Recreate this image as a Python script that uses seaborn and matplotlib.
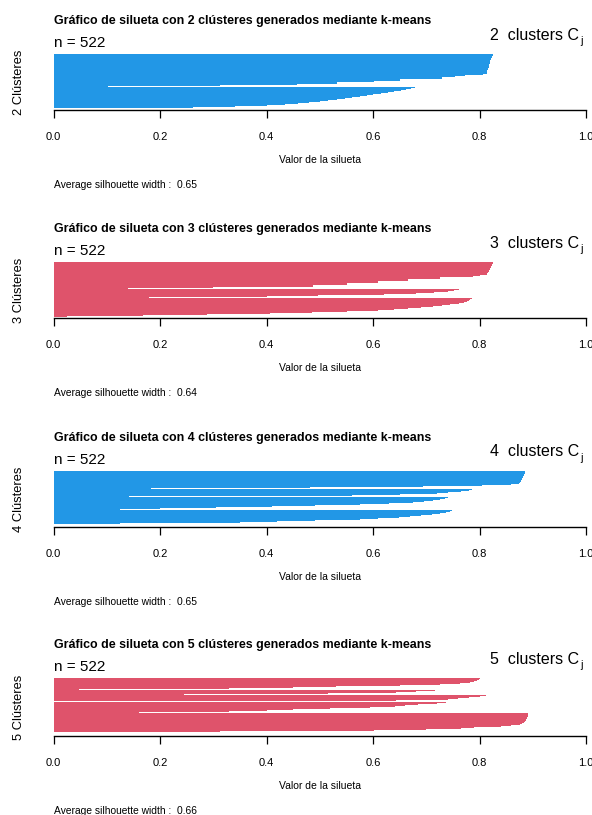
import numpy as np
import pandas as pd
import matplotlib.pyplot as plt
import seaborn as sns

# silhouette width per pixel row (top to bottom) of every cluster;
# the last value of each cluster (except the last) sits in the gap row
k2_c1 = [0.826, 0.825, 0.824, 0.823, 0.822, 0.821, 0.820, 0.820, 0.819, 0.819,
         0.818, 0.818, 0.817, 0.817, 0.816, 0.816, 0.815, 0.815, 0.814, 0.814,
         0.807, 0.773, 0.754, 0.729, 0.729, 0.651, 0.651, 0.601, 0.532, 0.532,
         0.457, 0.313, 0.103]
k2_c2 = [0.679, 0.672, 0.662, 0.652, 0.640, 0.628, 0.615, 0.600, 0.588, 0.575,
         0.560, 0.548, 0.532, 0.515, 0.500, 0.480, 0.460, 0.435, 0.400, 0.340,
         0.262]

k3_c1 = [0.826, 0.825, 0.824, 0.823, 0.822, 0.821, 0.820, 0.819, 0.818, 0.817,
         0.816, 0.815, 0.814, 0.800, 0.788, 0.726, 0.726, 0.666, 0.666, 0.610,
         0.610, 0.551, 0.551, 0.488, 0.488, 0.300, 0.139]
k3_c2 = [0.762, 0.752, 0.740, 0.714, 0.680, 0.620, 0.497, 0.400, 0.180]
k3_c3 = [0.785, 0.783, 0.780, 0.776, 0.771, 0.762, 0.745, 0.730, 0.713, 0.690,
         0.666, 0.640, 0.610, 0.551, 0.485, 0.407, 0.288, 0.168, 0.025]

k4_c1 = [0.886, 0.886, 0.885, 0.884, 0.883, 0.882, 0.881, 0.880, 0.879, 0.878,
         0.877, 0.876, 0.874, 0.860, 0.804, 0.694, 0.482, 0.183]
k4_c2 = [0.785, 0.780, 0.765, 0.741, 0.720, 0.650, 0.560, 0.141]
k4_c3 = [0.741, 0.736, 0.726, 0.712, 0.696, 0.676, 0.630, 0.576, 0.492, 0.411,
         0.305, 0.200, 0.125]
k4_c4 = [0.749, 0.745, 0.738, 0.726, 0.710, 0.690, 0.670, 0.648, 0.610, 0.576,
         0.492, 0.420, 0.351, 0.125]

k5_c1 = [0.800, 0.799, 0.796, 0.790, 0.783, 0.764, 0.726, 0.651, 0.531, 0.450,
         0.330, 0.048]
k5_c2 = [0.716, 0.680, 0.643, 0.516, 0.246]
k5_c3 = [0.812, 0.800, 0.780, 0.760, 0.740, 0.643, 0.0]
k5_c4 = [0.738, 0.720, 0.685, 0.660, 0.641, 0.595, 0.520, 0.450, 0.400, 0.330,
         0.161]
k5_c5 = [0.892, 0.892, 0.892, 0.891, 0.890, 0.889, 0.888, 0.887, 0.886, 0.884,
         0.880, 0.876, 0.860, 0.840, 0.790, 0.765, 0.700, 0.601, 0.313]

n_clusters = [2, 3, 4, 5]
avg_width = [0.65, 0.64, 0.65, 0.66]
n_obs = 522
panel_data = [[k2_c1, k2_c2],
              [k3_c1, k3_c2, k3_c3],
              [k4_c1, k4_c2, k4_c3, k4_c4],
              [k5_c1, k5_c2, k5_c3, k5_c4, k5_c5]]
panel_colors = ["#2297E6", "#DF536B", "#2297E6", "#DF536B"]
x_ticks = [0.0, 0.2, 0.4, 0.6, 0.8, 1.0]

sns.set_style("white")
plt.rcParams["font.family"] = ["Liberation Sans", "DejaVu Sans"]
plt.rcParams["text.color"] = "black"
plt.rcParams["xtick.color"] = "black"

W, H = 592, 815
fig = plt.figure(figsize=(W / 100, H / 100), dpi=100)

# pixel layout of each panel: top of the bars and the x axis line
bar_tops = [54, 262, 471, 678]
axis_lines = [110, 318, 527, 736]
x0, x1 = 53.5, 586

for i in range(4):
    top = bar_tops[i]
    bot = axis_lines[i]
    ax = fig.add_axes([x0 / W, 1 - bot / H, (x1 - x0) / W, (bot - top) / H])

    # one bar per pixel row
    widths = np.concatenate(panel_data[i])
    df = pd.DataFrame({"row": np.arange(len(widths)) + 0.5, "sil": widths})
    sns.barplot(data=df, x="sil", y="row", orient="y", native_scale=True,
                width=1, color=panel_colors[i], saturation=1, errorbar=None,
                linewidth=0, ax=ax)

    ax.set_xlim(0, 1)
    ax.set_ylim(bot - top, 0)
    ax.set_yticks([])
    ax.set_ylabel("")
    ax.set_xlabel("")
    ax.set_xticks(x_ticks)
    ax.set_xticklabels([f"{t:.1f}" for t in x_ticks])
    ax.tick_params(axis="x", direction="out", length=5.5, width=0.9,
                   color="black", pad=10, labelsize=8, bottom=True,
                   labelcolor="black")
    for s in ["top", "left", "right"]:
        ax.spines[s].set_visible(False)
    ax.spines["bottom"].set_color("black")
    ax.spines["bottom"].set_linewidth(1.0)
    ax.set_facecolor("none")

    k = n_clusters[i]
    fig.text(x0 / W, 1 - (top - 33) / H,
             f"Gráfico de silueta con {k} clústeres generados mediante k-means",
             fontsize=8.9, fontweight="bold", va="center", ha="left")
    fig.text(x0 / W, 1 - (top - 11) / H, f"n = {n_obs}",
             fontsize=11, va="center", ha="left")
    fig.text(579 / W, 1 - (top - 19) / H, f"{k}  clusters C",
             fontsize=11.5, va="center", ha="right")
    fig.text(580.5 / W, 1 - (top - 13) / H, "j",
             fontsize=8, va="center", ha="left")
    fig.text(18.5 / W, 1 - (top + bot) / 2 / H, f"{k} Clústeres",
             fontsize=9.3, rotation=90, va="center", ha="center")
    fig.text((x0 + x1) / 2 / W, 1 - (bot + 50) / H, "Valor de la silueta",
             fontsize=7.5, va="center", ha="center")
    fig.text(x0 / W, 1 - (bot + 75) / H,
             f"Average silhouette width :  {avg_width[i]:.2f}",
             fontsize=7.4, va="center", ha="left")

fig.savefig("out.png", dpi=100)
plt.close()
